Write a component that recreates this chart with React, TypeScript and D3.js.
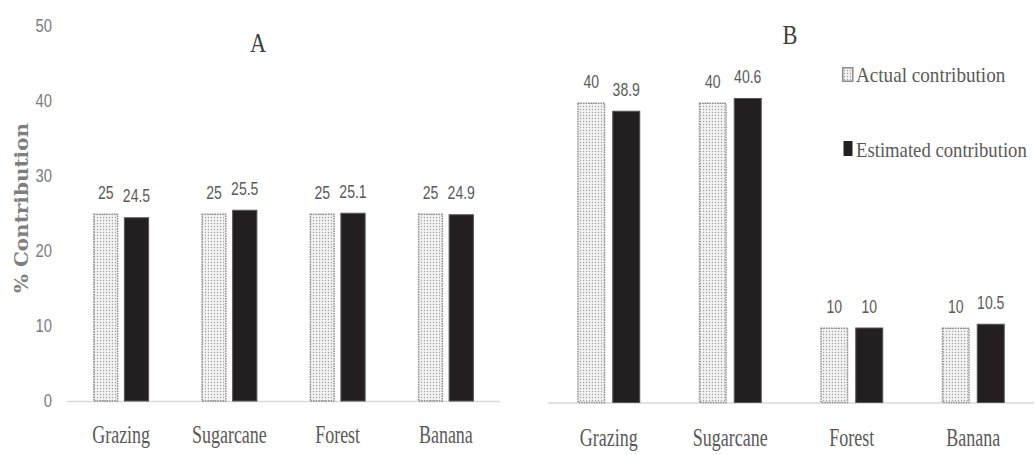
import React from "react";
import * as d3 from "d3";

const categories = ["Grazing", "Sugarcane", "Forest", "Banana"];
const seriesKeys = ["actual", "estimated"];
const seriesNames = ["Actual contribution", "Estimated contribution"];
const actualA = [25, 25, 25, 25];
const estimatedA = [24.5, 25.5, 25.1, 24.9];
const actualB = [40, 40, 10, 10];
const estimatedB = [38.9, 40.6, 10, 10.5];
const yTicks = [0, 10, 20, 30, 40, 50];
const panelTitles = ["A", "B"];

const W = 1035;
const H = 455;

function T({ x, y, sx = 1, anchor = "middle", size, family, fill, weight = "normal", children }: any) {
  return (
    <text
      transform={`translate(${x},${y}) scale(${sx},1)`}
      textAnchor={anchor}
      fontSize={size}
      fontFamily={family}
      fill={fill}
      fontWeight={weight}
    >
      {children}
    </text>
  );
}

const SERIF = "'Liberation Serif', 'Times New Roman', serif";
const SANS = "'Liberation Sans', Arial, sans-serif";

function Panel({ actual, estimated, x0, x1, y0, groupW, pad, title, titleX, titleY, labelY, showAxis }: any) {
  const x = d3.scaleBand<string>().domain(categories).range([x0, x1]);
  const y = d3.scaleLinear().domain([0, 50]).range([y0, y0 - 375]);
  const inner = d3
    .scaleBand<string>()
    .domain(seriesKeys)
    .range([-groupW / 2, groupW / 2])
    .paddingInner(pad);
  const vals = [actual, estimated];
  return (
    <g>
      {showAxis &&
        yTicks.map((t) => (
          <T key={t} x={52} y={y(t) + 6} sx={0.78} anchor="end" size={19} family={SANS} fill="#7a7a7a">
            {t}
          </T>
        ))}
      <line x1={x0} x2={x1} y1={y0 + 0.5} y2={y0 + 0.5} stroke="#d9d9d9" strokeWidth={1.5} />
      {categories.map((c, i) => {
        const cx = (x(c) as number) + x.bandwidth() / 2;
        return (
          <g key={c}>
            {seriesKeys.map((k, j) => {
              const v = vals[j][i];
              const bx = cx + (inner(k) as number);
              const bw = inner.bandwidth();
              const top = y(v);
              return (
                <g key={k}>
                  {j === 0 ? (
                    <rect
                      x={bx + 0.75}
                      y={top + 0.75}
                      width={bw - 1.5}
                      height={y0 - top - 0.75}
                      fill="url(#dots)"
                      stroke="#8c8c8c"
                      strokeWidth={1.5}
                      strokeDasharray="1.5 1"
                    />
                  ) : (
                    <rect
                      x={bx + 0.5}
                      y={top + 0.5}
                      width={bw - 1}
                      height={y0 - top - 0.5}
                      fill="#231f20"
                      stroke="#555"
                      strokeWidth={1}
                    />
                  )}
                  <T x={bx + bw / 2} y={top - 15} sx={0.78} size={18} family={SANS} fill="#5a5a5a">
                    {v}
                  </T>
                </g>
              );
            })}
            <T x={cx} y={labelY} sx={0.72} size={25} family={SERIF} fill="#595959">
              {c}
            </T>
          </g>
        );
      })}
      <T x={titleX} y={titleY} sx={0.8} size={28} family={SERIF} fill="#404040">
        {title}
      </T>
    </g>
  );
}

export default function App() {
  return (
    <svg width={W} height={H} style={{ position: "absolute", left: 0, top: 0, background: "#fff" }}>
      <defs>
        <pattern id="dots" width="3" height="3" patternUnits="userSpaceOnUse">
          <rect width="3" height="3" fill="#f2f2f2" />
          <circle cx="1.5" cy="1.5" r="0.65" fill="#a0a0a0" />
        </pattern>
      </defs>
      <rect width={W} height={H} fill="#fff" />
      <text
        transform="translate(28,208) rotate(-90)"
        textAnchor="middle"
        fontSize={18}
        fontWeight="bold"
        fontFamily="'DejaVu Serif', serif"
        fill="#7f7f7f"
        textLength={170}
        lengthAdjust="spacingAndGlyphs"
      >
        % Contribution
      </text>
      <Panel
        actual={actualA}
        estimated={estimatedA}
        x0={67}
        x1={500}
        y0={401}
        groupW={56}
        pad={0.18}
        title={panelTitles[0]}
        titleX={258}
        titleY={52}
        labelY={443}
        showAxis={true}
      />
      <Panel
        actual={actualB}
        estimated={estimatedB}
        x0={548}
        x1={1034}
        y0={402.5}
        groupW={63}
        pad={0.2}
        title={panelTitles[1]}
        titleX={790}
        titleY={44}
        labelY={446}
        showAxis={false}
      />
      <g>
        <rect x={842.75} y={67.75} width={10} height={13.5} fill="url(#dots)" stroke="#8c8c8c" strokeWidth={1.5} />
        <T x={856} y={82} sx={0.87} size={22} anchor="start" family={SERIF} fill="#595959">
          {seriesNames[0]}
        </T>
        <rect x={843.5} y={141} width={9} height={15} fill="#231f20" />
        <T x={856} y={157} sx={0.85} size={22} anchor="start" family={SERIF} fill="#595959">
          {seriesNames[1]}
        </T>
      </g>
    </svg>
  );
}
